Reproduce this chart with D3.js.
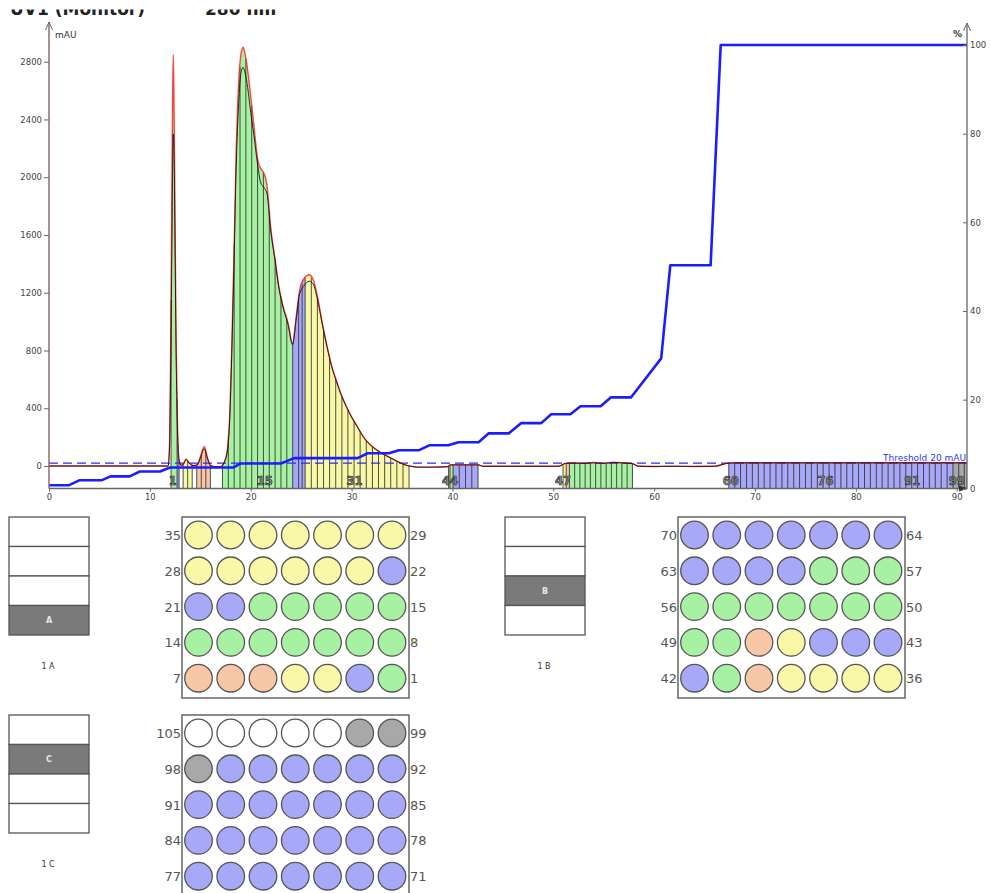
<!DOCTYPE html>
<html><head><meta charset="utf-8">
<script src="https://cdn.jsdelivr.net/npm/d3@7/dist/d3.min.js"></script>
<style>body{margin:0;background:#fff;} svg{display:block;font-family:"DejaVu Sans",sans-serif;}</style>
</head><body><svg id="c" width="991" height="893"></svg>
<script>
// ---------------- DATA ----------------
const titleParts = ["UV1 (Monitor)", "280 nm"];
const uvTime = [0, 11.8, 11.95, 12.05, 12.15, 12.25, 12.32, 12.4, 12.5, 12.6,
  12.75, 12.9, 13.1, 13.3, 13.6, 13.9, 14.3, 14.7, 15.0, 15.4,
  15.7, 16.0, 16.5, 17.0, 17.4, 17.7, 17.95, 18.15, 18.35, 18.55,
  18.8, 19.05, 19.25, 19.45, 19.7, 20.0, 20.3, 20.7, 21.0, 21.3,
  21.6, 22.0, 22.4, 22.8, 23.2, 23.7, 24.15, 24.5, 24.85, 25.3,
  25.8, 26.2, 26.6, 27.1, 27.6, 28.0, 28.5, 29.0, 29.5, 30.0,
  30.6, 31.2, 31.8, 32.5, 33.2, 33.9, 34.6, 35.3, 36.0, 36.5,
  38.0, 39.5, 39.8, 42.6, 43.0, 50.5, 51.2, 52.0, 53.0, 54.0,
  55.0, 56.0, 57.0, 57.8, 58.5, 60, 62, 64, 66, 67.2,
  68, 70, 75, 80, 85, 90, 91.1];
const uvMain = [0, 0, 150, 700, 1600, 2500, 2850, 2500, 1700, 900,
  250, 40, 5, 10, 48, 20, 3, 8, 60, 135,
  60, 5, -5, -5, 30, 120, 400, 900, 1500, 2150,
  2650, 2860, 2900, 2850, 2740, 2560, 2370, 2120, 2060, 2030,
  1950, 1640, 1440, 1240, 1110, 990, 850, 1030, 1220, 1300,
  1325, 1290, 1180, 990, 820, 700, 590, 490, 410, 340,
  270, 200, 150, 112, 80, 55, 30, 8, -3, -8,
  -8, -5, 8, 8, -2, -2, 18, 22, 20, 24,
  20, 26, 22, 18, -2, -3, -2, -3, -2, 18,
  22, 22, 22, 22, 22, 22, 22];
const uvSecond = [0, 0, 120, 550, 1250, 2000, 2300, 2150, 1500, 800,
  230, 40, 5, 10, 45, 20, 3, 8, 55, 120,
  55, 5, -5, -5, 30, 110, 380, 850, 1420, 2050,
  2500, 2730, 2760, 2720, 2620, 2450, 2300, 2080, 1960, 1930,
  1890, 1620, 1430, 1230, 1100, 980, 840, 1010, 1190, 1250,
  1280, 1260, 1160, 980, 815, 695, 585, 488, 408, 338,
  268, 198, 150, 110, 80, 55, 30, 8, -3, -8,
  -8, -5, 8, 8, -2, -2, 18, 20, 18, 22,
  18, 24, 20, 16, -2, -3, -2, -3, -2, 18,
  22, 22, 22, 22, 22, 22, 22];

const gradTime = [0, 2, 3, 5.2, 6.1, 8, 9, 11, 12, 18.3,
  19, 23, 24.3, 30.6, 31.6, 33.7, 34.7, 36.7, 37.7, 39.6,
  40.6, 42.6, 43.6, 45.6, 46.8, 48.8, 49.8, 51.7, 52.7, 54.7,
  55.7, 57.7, 60.7, 61.6, 65.6, 66.6, 91.1];
const gradPct = [0.7, 0.7, 1.8, 1.8, 2.7, 2.7, 3.8, 3.8, 4.7, 4.7,
  5.6, 5.6, 6.8, 6.8, 7.9, 7.9, 8.6, 8.6, 9.7, 9.7,
  10.4, 10.4, 12.4, 12.4, 14.7, 14.7, 16.7, 16.7, 18.5, 18.5,
  20.5, 20.5, 29.3, 50.3, 50.3, 100, 100];

const thresholdValue = 20;
const thresholdLabel = "Threshold 20 mAU";

// fractions 1..100
const fracStart = [12.10, 12.70, 13.30, 13.75, 14.65, 15.10, 15.55,
  17.20, 17.78, 18.36, 18.94, 19.52, 20.10, 20.68, 21.26, 21.84, 22.42, 23.00, 23.58,
  24.16, 24.75, 25.10,
  25.40, 26.01, 26.61, 27.22, 27.82, 28.43, 29.04, 29.64, 30.25, 30.85, 31.46, 32.07, 32.67, 33.28, 33.88, 34.49, 35.10,
  39.62, 39.76, 40.06, 40.68, 41.30, 41.92,
  50.97, 51.28,
  51.60, 52.12, 52.64, 53.16, 53.68, 54.20, 54.72, 55.24, 55.76, 56.28, 56.80, 57.32,
  67.40, 67.99, 68.57, 69.16, 69.74, 70.33, 70.91, 71.50, 72.08, 72.67,
  73.25, 73.84, 74.42, 75.01, 75.59, 76.18, 76.76, 77.35, 77.93, 78.52,
  79.10, 79.69, 80.27, 80.86, 81.44, 82.03, 82.61, 83.20, 83.78, 84.37,
  84.95, 85.54, 86.12, 86.71, 87.29, 87.88, 88.46, 89.05,
  89.63, 90.20, 90.75];
const fracEnd = [12.70, 12.90, 13.75, 14.20, 15.10, 15.55, 16.00,
  17.78, 18.36, 18.94, 19.52, 20.10, 20.68, 21.26, 21.84, 22.42, 23.00, 23.58, 24.16,
  24.75, 25.10, 25.40,
  26.01, 26.61, 27.22, 27.82, 28.43, 29.04, 29.64, 30.25, 30.85, 31.46, 32.07, 32.67, 33.28, 33.88, 34.49, 35.10, 35.70,
  39.76, 40.06, 40.68, 41.30, 41.92, 42.54,
  51.28, 51.60,
  52.12, 52.64, 53.16, 53.68, 54.20, 54.72, 55.24, 55.76, 56.28, 56.80, 57.32, 57.85,
  67.99, 68.57, 69.16, 69.74, 70.33, 70.91, 71.50, 72.08, 72.67, 73.25,
  73.84, 74.42, 75.01, 75.59, 76.18, 76.76, 77.35, 77.93, 78.52, 79.10,
  79.69, 80.27, 80.86, 81.44, 82.03, 82.61, 83.20, 83.78, 84.37, 84.95,
  85.54, 86.12, 86.71, 87.29, 87.88, 88.46, 89.05, 89.63,
  90.20, 90.75, 91.10];
const fracColor = ("gbyyooo" + "gggggggggggg" + "bbb" + "yyyyyyyyyyyyyyyyy" + "ogbbbb" + "yo" +
  "gggggggggggg" + "bbbbbbbbbbbbbbbbbbbbbbbbbbbbbbbbbbbbbb" + "kkk").split("");
const fracLabelText = ["1", "15", "31", "44", "47", "60", "76", "91", "99"];
const fracLabelTime = [12.28, 21.4, 30.3, 39.76, 50.97, 67.6, 77.0, 85.6, 90.0];

const mAUTicks = [0, 400, 800, 1200, 1600, 2000, 2400, 2800];
const pctTicks = [0, 20, 40, 60, 80, 100];
const timeTicks = [0, 10, 20, 30, 40, 50, 60, 70, 80, 90];

const plateNames = ["A", "B", "C"];
const rackSlot = [3, 2, 1];
const wellsPerPlate = 35;

// ---------------- STYLE ----------------
const colorMap = {g: "#a6f2a2", b: "#a8a8f8", y: "#f8f8a6", o: "#f8c8a6", k: "#a8a8a8", w: "#ffffff"};
const X0 = 49, X90 = 956.7, XEND = 967, YBOT = 488.5;
const fmt = d => String(d);

const svg = d3.select("#c");
const defs = svg.append("defs");

// title (clipped at top, as in the reference)
defs.append("clipPath").attr("id", "titleClip").append("rect")
  .attr("x", 0).attr("y", 9.5).attr("width", 400).attr("height", 20);
const tg = svg.append("g").attr("clip-path", "url(#titleClip)");
tg.append("text").attr("x", 10).attr("y", 15).attr("font-size", 17).attr("font-weight", "bold")
  .attr("fill", "#222").text(titleParts[0]);
tg.append("text").attr("x", 205).attr("y", 15).attr("font-size", 17).attr("font-weight", "bold")
  .attr("fill", "#222").text(titleParts[1]);

// scales
const x = d3.scaleLinear().domain([0, 90]).range([X0, X90]);
const y = d3.scaleLinear().domain([0, 2800]).range([466, 61.7]);
const yp = d3.scaleLinear().domain([0, 100]).range([488.3, 45]);

defs.append("clipPath").attr("id", "plotClip").append("rect")
  .attr("x", X0).attr("y", 20).attr("width", XEND - X0).attr("height", YBOT - 20);

const plot = svg.append("g").attr("clip-path", "url(#plotClip)");

// fraction fills
const area = d3.area().curve(d3.curveMonotoneX)
  .x((d, i) => x(uvTime[i])).y0(YBOT).y1(d => y(d));
const areaD = area(uvMain);
const gFill = plot.append("g");
fracStart.forEach((s, i) => {
  const id = "fc" + i;
  defs.append("clipPath").attr("id", id).append("rect")
    .attr("x", x(s)).attr("y", 0).attr("width", Math.max(0.3, x(fracEnd[i]) - x(s))).attr("height", 893);
  gFill.append("path").attr("d", areaD).attr("clip-path", `url(#${id})`)
    .attr("fill", colorMap[fracColor[i]]);
});

function uvAt(t) {
  const i = d3.bisectRight(uvTime, t);
  if (i <= 0) return uvMain[0];
  if (i >= uvTime.length) return uvMain[uvMain.length - 1];
  const t0 = uvTime[i - 1], t1 = uvTime[i];
  return uvMain[i - 1] + (uvMain[i] - uvMain[i - 1]) * (t - t0) / (t1 - t0);
}
// fraction boundary lines
const bounds = new Map();
fracStart.forEach((s, i) => { bounds.set(s.toFixed(2), s); bounds.set(fracEnd[i].toFixed(2), fracEnd[i]); });
plot.append("g").selectAll("line").data([...bounds.values()]).join("line")
  .attr("x1", d => x(d)).attr("x2", d => x(d))
  .attr("y1", YBOT).attr("y2", d => Math.min(YBOT, y(uvAt(d))))
  .attr("stroke", "#1a1a1a").attr("stroke-width", 0.9).attr("stroke-opacity", 0.85);

// threshold
plot.append("line").attr("x1", X0).attr("x2", XEND).attr("y1", y(thresholdValue)).attr("y2", y(thresholdValue))
  .attr("stroke", "#2a2aff").attr("stroke-width", 1.2).attr("stroke-dasharray", "9,5");

// UV traces
const line = d3.line().curve(d3.curveMonotoneX).x((d, i) => x(uvTime[i])).y(d => y(d));
plot.append("path").attr("d", line(uvMain)).attr("fill", "none")
  .attr("stroke", "#ff1a1a").attr("stroke-width", 1.4).attr("stroke-opacity", 0.8);
plot.append("path").attr("d", line(uvSecond)).attr("fill", "none")
  .attr("stroke", "#111").attr("stroke-width", 1).attr("stroke-opacity", 0.85);

// gradient
const gline = d3.line().x((d, i) => x(gradTime[i])).y(d => yp(d));
plot.append("path").attr("d", gline(gradPct)).attr("fill", "none")
  .attr("stroke", "#1c1cff").attr("stroke-width", 2.6).attr("stroke-linejoin", "round");

// threshold label
svg.append("text").attr("x", 966).attr("y", 461).attr("text-anchor", "end")
  .attr("font-size", 9).attr("fill", "#3333ff").text(thresholdLabel);

// fraction labels
svg.append("g").selectAll("text").data(fracLabelText).join("text")
  .attr("x", (d, i) => x(fracLabelTime[i])).attr("y", 485).attr("text-anchor", "middle")
  .attr("font-size", 11.5).attr("font-weight", "bold").attr("fill", "#8a8a8a")
  .attr("stroke", "#222").attr("stroke-width", 0.6).text(d => d);

// axes
const axisColor = "#666";
const gL = svg.append("g").attr("transform", `translate(${X0},0)`)
  .call(d3.axisLeft(y).tickValues(mAUTicks).tickFormat(fmt).tickSize(5).tickPadding(2));
gL.select(".domain").remove();
gL.selectAll(".tick line").attr("stroke", axisColor);
gL.selectAll(".tick text").attr("font-size", 8.5).attr("fill", "#444").attr("font-family", "DejaVu Sans");
svg.append("line").attr("x1", X0).attr("x2", X0).attr("y1", YBOT).attr("y2", 22)
  .attr("stroke", "#8a6262").attr("stroke-width", 1.4);
svg.append("path").attr("d", `M${X0 - 3.5},30 L${X0},22 L${X0 + 3.5},30`).attr("fill", "none").attr("stroke", "#666");
svg.append("text").attr("x", 55).attr("y", 38).attr("font-size", 9).attr("fill", "#333").text("mAU");

const gB = svg.append("g").attr("transform", `translate(0,${YBOT})`)
  .call(d3.axisBottom(x).tickValues(timeTicks).tickFormat(fmt).tickSize(3).tickPadding(2));
gB.select(".domain").remove();
gB.selectAll(".tick line").attr("stroke", axisColor);
gB.selectAll(".tick text").attr("font-size", 8.5).attr("fill", "#444").attr("font-family", "DejaVu Sans");
svg.append("line").attr("x1", X0).attr("x2", XEND).attr("y1", YBOT).attr("y2", YBOT)
  .attr("stroke", axisColor).attr("stroke-width", 1.3);
svg.append("path").attr("d", `M${XEND - 8},${YBOT - 3} L${XEND + 1},${YBOT} L${XEND - 8},${YBOT + 3} Z`).attr("fill", "#333");

const gR = svg.append("g").attr("transform", `translate(${XEND},0)`)
  .call(d3.axisRight(yp).tickValues(pctTicks).tickFormat(fmt).tickSizeInner(-4).tickSizeOuter(0).tickPadding(3));
gR.select(".domain").remove();
gR.selectAll(".tick line").attr("stroke", axisColor);
gR.selectAll(".tick text").attr("font-size", 8.5).attr("fill", "#444").attr("font-family", "DejaVu Sans");
svg.append("line").attr("x1", XEND).attr("x2", XEND).attr("y1", YBOT).attr("y2", 23)
  .attr("stroke", axisColor).attr("stroke-width", 1.3);
svg.append("path").attr("d", `M${XEND - 3.5},31 L${XEND},23 L${XEND + 3.5},31`).attr("fill", "none").attr("stroke", "#666");
svg.append("text").attr("x", 953).attr("y", 37).attr("font-size", 9).attr("font-weight", "bold").attr("fill", "#333").text("%");

// ---------------- PLATES ----------------
const plateX = [182, 678, 182];
const plateY = [517, 517, 715];
const rackX = [9, 505, 9];
const colStep = 32.25, rowStep = 35.8, wellR = 13.8;

plateNames.forEach((name, p) => {
  const rx = rackX[p], ry = plateY[p], rw = 80, rh = 118, sh = rh / 4;
  const rg = svg.append("g");
  for (let s = 0; s < 4; s++) {
    rg.append("rect").attr("x", rx).attr("y", ry + s * sh).attr("width", rw).attr("height", sh)
      .attr("fill", s === rackSlot[p] ? "#7a7a7a" : "#fff").attr("stroke", "#555").attr("stroke-width", 1.3);
  }
  rg.append("text").attr("x", rx + rw / 2).attr("y", ry + rackSlot[p] * sh + sh / 2 + 3)
    .attr("text-anchor", "middle").attr("font-size", 8).attr("font-weight", "bold").attr("fill", "#e8e8e8").text(name);
  rg.append("text").attr("x", rx + rw / 2 - 1).attr("y", ry + 152).attr("text-anchor", "middle")
    .attr("font-size", 8).attr("fill", "#333").text("1 " + name);

  const px = plateX[p], py = plateY[p];
  const pg = svg.append("g");
  pg.append("rect").attr("x", px).attr("y", py).attr("width", 227).attr("height", 181)
    .attr("fill", "#fff").attr("stroke", "#666").attr("stroke-width", 1.5);
  const wells = d3.range(wellsPerPlate).map(k => {
    const n = p * wellsPerPlate + k + 1;
    const rFromBottom = Math.floor(k / 7), j = k % 7;
    return {n, col: 6 - j, row: 4 - rFromBottom};
  });
  pg.selectAll("circle").data(wells).join("circle")
    .attr("cx", d => px + 16.5 + d.col * colStep)
    .attr("cy", d => py + 18 + d.row * rowStep)
    .attr("r", wellR)
    .attr("fill", d => d.n <= fracColor.length ? colorMap[fracColor[d.n - 1]] : colorMap.w)
    .attr("stroke", "#555").attr("stroke-width", 1.3);
  for (let r = 0; r < 5; r++) {
    const rowFromBottom = 4 - r;
    const cy = py + 18 + r * rowStep;
    const leftN = p * wellsPerPlate + rowFromBottom * 7 + 7;
    const rightN = p * wellsPerPlate + rowFromBottom * 7 + 1;
    pg.append("text").attr("x", px - 1).attr("y", cy + 5).attr("text-anchor", "end")
      .attr("font-size", 13).attr("fill", "#555").text(leftN);
    pg.append("text").attr("x", px + 228).attr("y", cy + 5).attr("text-anchor", "start")
      .attr("font-size", 13).attr("fill", "#555").text(rightN);
  }
});
</script>
</body></html>
